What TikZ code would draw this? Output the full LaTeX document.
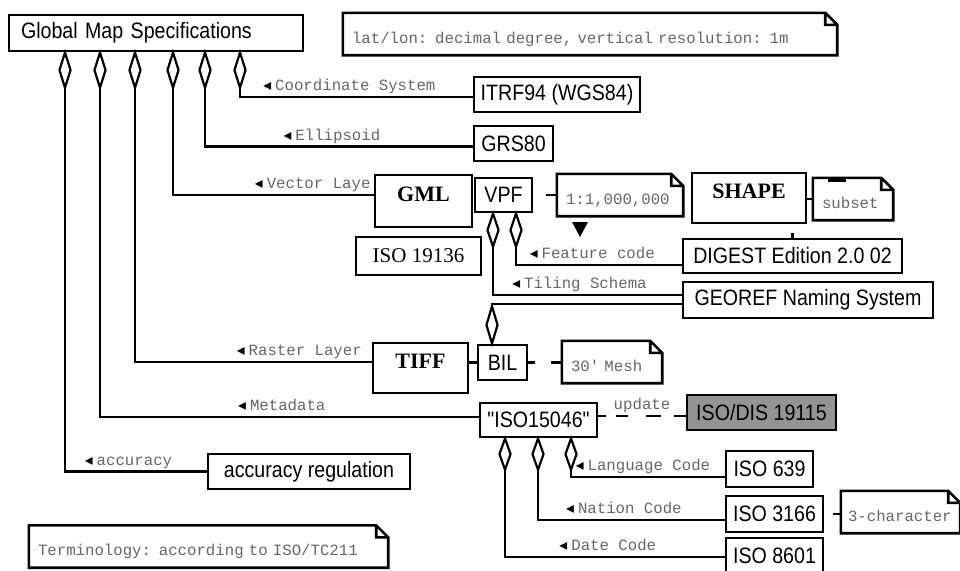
\documentclass[tikz,border=0pt]{standalone}
\usepackage{fontspec}
\usepackage{tikz}
\usetikzlibrary{shapes.geometric}
\newfontfamily\boxfont{Liberation Sans}[FakeStretch=0.88]
\newfontfamily\monofont{Liberation Mono}
\newfontfamily\tmsfont{Liberation Serif}
\newfontfamily\symfont{DejaVu Sans}
\newcommand{\lbl}[1]{{\color{black}\symfont ◂}\hspace{4pt}#1}
\tikzset{x=1pt, y=-1pt, % pixel-like units, y grows downward
box/.style={ % Plain class boxes
draw, line width=2.6pt, fill=white,
font=\boxfont\fontsize{22.3}{26}\selectfont,
inner xsep=6pt, inner ysep=2pt, minimum height=35pt},
tbox/.style={ % Boxes with a bold serif title near the top
box, font=\tmsfont\bfseries\fontsize{22}{26}\selectfont,
text height=15pt, text depth=15pt},
note/.style={ % Comment notes, outline drawn afterwards
font=\monofont\fontsize{15.7}{18}\selectfont, text=black!60,
text width=#1, align=left, inner xsep=9pt, minimum height=42pt,
text height=21pt, text depth=3pt},
agg/.style={ % Hollow aggregation diamonds
diamond, draw, fill=white, line width=2.2pt, inner sep=0pt,
minimum width=12pt, minimum height=36pt},
link/.style={draw, line width=2.6pt},
lab/.style={ % Role names on the links
above=1pt, inner sep=1pt, font=\monofont\fontsize{15.7}{18}\selectfont,
text=black!60, text height=11pt, text depth=3pt},
fold/.style={draw, line width=2.6pt, line join=miter}}

\begin{document}
\begin{tikzpicture}
\useasboundingbox (0,0) rectangle (960,570);

% main class and notes
\node[box, text width=270pt, align=left, inner xsep=12pt, minimum height=36pt] (gms) at (156,33) {Global Map Specifications};
\node[note=476pt] (latlon) at (590,34) {lat/lon: decimal degree, vertical resolution: 1m};
\node[note=341pt] (term) at (208.5,546.5) {Terminology: according to ISO/TC211};

\foreach \x/\n in {65/a, 100/b, 135/c, 173/d, 205/e, 240/f}
  \node[agg, anchor=north] (g\n) at (\x,51) {};

% parts
\node[box, minimum width=166pt] (itrf) at (557,94.5) {ITRF94 (WGS84)};
\node[box, minimum width=79pt] (grs) at (513.5,143.5) {GRS80};
\node[tbox, minimum width=97pt, minimum height=52pt] (gml) at (423.5,201) {GML};
\node[box, minimum width=57pt, minimum height=34pt] (vpf) at (503.5,195) {VPF};
\node[note=108pt] (scale) at (620,195) {1:1,000,000};
\node[tbox, minimum width=114pt, minimum height=50pt] (shape) at (749,198) {SHAPE};
\node[note=62pt] (subset) at (853,199) {subset};
\node[box, font=\tmsfont\fontsize{21}{24}\selectfont, minimum width=125pt, minimum height=38pt] (iso19136) at (418.5,256) {ISO 19136};
\node[box, minimum width=219pt, minimum height=34pt] (digest) at (792.5,256) {DIGEST Edition 2.0 02};
\node[box, minimum width=250pt, minimum height=36pt] (georef) at (808,300) {GEOREF Naming System};
\node[tbox, minimum width=95pt, minimum height=50pt] (tiff) at (420.5,368) {TIFF};
\node[box, minimum width=49pt] (bil) at (502.5,362.5) {BIL};
\node[note=82pt] (mesh) at (612,362) {30\textquotesingle{} Mesh};
\node[box, minimum width=117pt, minimum height=34pt] (iso15046) at (538.5,420) {"ISO15046"};
\node[box, fill=black!42, minimum width=149pt] (isodis) at (761.5,412.5) {ISO/DIS 19115};
\node[box, minimum width=87pt, minimum height=36pt] (iso639) at (769.5,469) {ISO 639};
\node[box, minimum width=97pt, minimum height=36pt] (iso3166) at (774.5,514) {ISO 3166};
\node[box, minimum width=97pt] (iso8601) at (774.5,555.5) {ISO 8601};
\node[note=105pt, inner xsep=7pt] (threech) at (900.5,512) {3-character};
\node[box, minimum width=202pt] (accreg) at (309,471.5) {accuracy regulation};

% aggregations of the main class
\draw[link] (ga.south) |- (accreg.west) node[lab, pos=0.724] {\lbl{accuracy}};
\draw[link] (gb.south) |- ([yshift=3pt]iso15046.west) node[lab, pos=0.74] {\lbl{Metadata}};
\draw[link] (gc.south) |- ([yshift=6pt]tiff.west) node[lab, pos=0.847] {\lbl{Raster Layer}};
\draw[link] (gd.south) |- ([yshift=6pt]gml.west) node[lab, pos=0.848] {\lbl{Vector Laye}};
\draw[link] (ge.south) |- ([yshift=-3pt]grs.west) node[lab, pos=0.737] {\lbl{Ellipsoid}};
\draw[link] (gf.south) |- ([yshift=-2.5pt]itrf.west) node[lab, pos=0.735] {\lbl{Coordinate System}};

% VPF
\node[agg, anchor=north, minimum height=34pt] (va) at (493,212) {};
\node[agg, anchor=north, minimum height=34pt] (vb) at (516,212) {};
\draw[link] (vb.south) |- ([yshift=-9pt]digest.west) node[lab, pos=0.73] {\lbl{Feature code}};
\draw[link] (va.south) |- ([yshift=5pt]georef.west) node[lab, pos=0.729] {\lbl{Tiling Schema}};
\draw[link] ([xshift=13pt]vpf.east) -- (scale.west);
\fill (572,222) -- (588,222) -- (580,237) -- cycle;
\draw[link] (subset.west -| shape.east) -- (subset.west);
\draw[line width=3pt] (828,180) -- (846,180);
\draw[link] (digest.north) -- ++(0,-5);

% BIL
\node[agg, anchor=south, minimum height=38pt] (bd) at (492,345) {};
\draw[link] (bd.north) |- ([yshift=-4pt]georef.west);
\draw[link] (bil.west -| tiff.east) -- (bil.west);
\draw[link, dash pattern=on 7pt off 16pt on 12pt off 10pt] (bil.east) -- (bil.east -| mesh.west);

% metadata
\foreach \x/\n in {505/a, 538/b, 571/c}
  \node[agg, anchor=north, minimum height=32pt] (i\n) at (\x,437) {};
\draw[link] (ic.south) |- ([yshift=-8pt]iso639.west) node[lab, pos=0.734] {\lbl{Language Code}};
\draw[link] (ib.south) |- ([yshift=-6pt]iso3166.west) node[lab, pos=0.73] {\lbl{Nation Code}};
\draw[link] (ia.south) |- ([yshift=-1.5pt]iso8601.west) node[lab, pos=0.734] {\lbl{Date Code}};
\draw[link] ([xshift=9pt]iso3166.east) -- (iso3166.east -| threech.west);
\draw[link, dash pattern=on 8pt off 10pt on 12pt off 18pt on 15pt off 13pt on 14pt off 1pt]
  ([yshift=4pt]iso15046.east) -- ([yshift=4pt]iso15046.east -| isodis.west) node[lab, pos=0.5] {update};

% note outlines with folded corner
\foreach \n in {latlon, term, scale, subset, mesh, threech}
  \draw[fold] (\n.south west) -- (\n.north west) -- ([xshift=-12pt]\n.north east)
    -- ([yshift=-12pt]\n.north east) -- (\n.south east) -- cycle
    ([xshift=-12pt]\n.north east) |- ([yshift=-12pt]\n.north east);
\end{tikzpicture}
\end{document}
